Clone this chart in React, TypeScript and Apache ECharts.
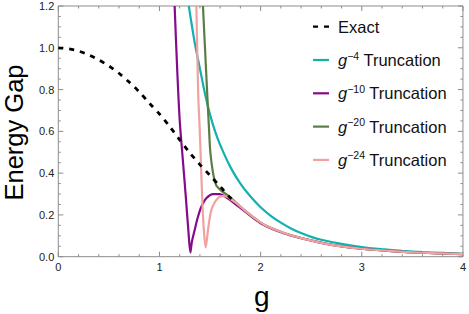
import React, { useEffect, useRef } from "react";
import * as echarts from "echarts";

// ---- data ----
const xTitle = "g";
const yTitle = "Energy Gap";
const xMajorTicks = [0, 1, 2, 3, 4];
const yMajorTicks = [0, 0.2, 0.4, 0.6, 0.8, 1.0, 1.2];
const xMinorPerMajor = 5;
const yMinorPerMajor = 4;

const exactData: [number, number][] = [
  [0, 1.0], [0.1, 0.995], [0.2, 0.984], [0.3, 0.966], [0.4, 0.942], [0.5, 0.913],
  [0.6, 0.878], [0.7, 0.836], [0.8, 0.789], [0.9, 0.735], [1.0, 0.683], [1.1, 0.624],
  [1.2, 0.559], [1.3, 0.497], [1.4, 0.441], [1.5, 0.389], [1.6, 0.336], [1.7, 0.282],
  [1.75, 0.262],
];

const g4Data: [number, number][] = [
  [1.29, 1.2], [1.35, 1.02], [1.4, 0.9], [1.45, 0.78], [1.5, 0.68], [1.55, 0.6],
  [1.6, 0.535], [1.7, 0.43], [1.8, 0.35], [1.9, 0.288], [2.0, 0.237], [2.1, 0.196],
  [2.2, 0.163], [2.3, 0.135], [2.4, 0.113], [2.5, 0.095], [2.6, 0.081], [2.8, 0.061],
  [3.0, 0.046], [3.2, 0.036], [3.4, 0.028], [3.6, 0.022], [3.8, 0.018], [4.0, 0.014],
];

const g10Data: [number, number][] = [
  [1.15, 1.2], [1.175, 0.9], [1.2, 0.654], [1.23, 0.47], [1.26, 0.29], [1.285, 0.13],
  [1.306, 0.02], [1.32, 0.07], [1.348, 0.128], [1.38, 0.19], [1.414, 0.239],
  [1.463, 0.28], [1.53, 0.3], [1.594, 0.3], [1.66, 0.284], [1.75, 0.252], [1.85, 0.214],
  [2.0, 0.16], [2.2, 0.117], [2.43, 0.085], [2.7, 0.057], [3.0, 0.038], [3.3, 0.027],
  [3.6, 0.019], [4.0, 0.012],
];

const g20Data: [number, number][] = [
  [1.43, 1.2], [1.45, 1.0], [1.47, 0.8], [1.49, 0.61], [1.503, 0.5], [1.53, 0.4],
  [1.56, 0.343], [1.61, 0.316], [1.68, 0.292], [1.75, 0.262], [1.84, 0.223],
  [1.94, 0.185], [2.04, 0.152], [2.24, 0.112], [2.43, 0.086], [2.7, 0.058],
  [3.0, 0.038], [3.3, 0.027], [3.6, 0.019], [4.0, 0.012],
];

const g24Data: [number, number][] = [
  [1.365, 1.2], [1.375, 0.95], [1.385, 0.75], [1.397, 0.62], [1.41, 0.45],
  [1.425, 0.25], [1.44, 0.12], [1.456, 0.045], [1.468, 0.08], [1.48, 0.128],
  [1.495, 0.18], [1.512, 0.223], [1.535, 0.25], [1.56, 0.27], [1.59, 0.285],
  [1.627, 0.29], [1.66, 0.288], [1.693, 0.28], [1.75, 0.26], [1.84, 0.223],
  [1.94, 0.185], [2.04, 0.152], [2.24, 0.112], [2.43, 0.085], [2.7, 0.057],
  [3.0, 0.038], [3.3, 0.027], [3.6, 0.019], [4.0, 0.012],
];

const seriesNames = ["Exact", "g4", "g10", "g20", "g24"];
const exponents: Record<string, string> = { g4: "4", g10: "10", g20: "20", g24: "24" };
const colors = ["#000000", "#12b0b0", "#850a8c", "#5b7d42", "#f2a0a0"];

const FONT = "'Liberation Sans', Arial, sans-serif";
const SOLID_ICON = "path://M0,0H16V2.2H0Z";
const DASH_ICON = "path://M0,0H5V2.2H0Z M11,0H16V2.2H11Z";
const FRAME = "#8c8c8c";
const X_MIN = 0, X_MAX = 4, Y_MIN = 0, Y_MAX = 1.2;
const W = 469, H = 314;
const GRID = { left: 58.3, right: 5, top: 6, bottom: 57.3 };
const MAJOR_PX = 5, MINOR_PX = 2.5;

type Pt = [number | string, number | string];
const GAP: Pt = ["-", "-"];

function withMinors(majors: number[], per: number): [number, boolean][] {
  const out: [number, boolean][] = [];
  majors.forEach((v, i) => {
    out.push([v, true]);
    const next = majors[i + 1];
    if (next !== undefined) for (let k = 1; k < per; k++) out.push([v + ((next - v) * k) / per, false]);
  });
  return out;
}

// tick marks expressed in axis units (pixel length converted with the plot size)
function buildTicks(): Pt[] {
  const unitX = (X_MAX - X_MIN) / (W - GRID.left - GRID.right);
  const unitY = (Y_MAX - Y_MIN) / (H - GRID.top - GRID.bottom);
  const pts: Pt[] = [];
  withMinors(xMajorTicks, xMinorPerMajor).forEach(([v, major]) => {
    const d = (major ? MAJOR_PX : MINOR_PX) * unitY;
    pts.push([v, Y_MIN], [v, Y_MIN + d], GAP, [v, Y_MAX], [v, Y_MAX - d], GAP);
  });
  withMinors(yMajorTicks, yMinorPerMajor).forEach(([v, major]) => {
    const d = (major ? MAJOR_PX : MINOR_PX) * unitX;
    pts.push([X_MIN, v], [X_MIN + d, v], GAP, [X_MAX, v], [X_MAX - d, v], GAP);
  });
  return pts;
}

const framePts: Pt[] = [[X_MIN, Y_MIN], [X_MAX, Y_MIN], [X_MAX, Y_MAX], [X_MIN, Y_MAX], [X_MIN, Y_MIN]];

export default function App() {
  const ref = useRef<HTMLDivElement>(null);

  useEffect(() => {
    if (!ref.current) return;
    const chart = echarts.init(ref.current, undefined, { renderer: "svg" });
    const datas = [exactData, g4Data, g10Data, g20Data, g24Data];

    const decoSeries = (name: string, data: Pt[]) => ({
      name,
      type: "line",
      data,
      showSymbol: false,
      symbol: "none",
      silent: true,
      clip: false,
      connectNulls: false,
      z: 1,
      emphasis: { disabled: true },
      itemStyle: { color: FRAME },
      lineStyle: { color: FRAME, width: 1, type: "solid" },
    });

    chart.setOption({
      animation: false,
      grid: { ...GRID },
      xAxis: {
        type: "value", min: X_MIN, max: X_MAX, interval: 1,
        axisLine: { show: false }, axisTick: { show: false }, splitLine: { show: false },
        axisLabel: { show: true, color: "#222", fontSize: 11, fontFamily: FONT, margin: 5 },
      },
      yAxis: {
        type: "value", min: Y_MIN, max: Y_MAX, interval: 0.2,
        axisLine: { show: false }, axisTick: { show: false }, splitLine: { show: false },
        axisLabel: { show: true, color: "#222", fontSize: 11, fontFamily: FONT, margin: 4, formatter: (v: number) => v.toFixed(1) },
      },
      graphic: [
        {
          type: "text",
          x: 14,
          y: 132.5,
          rotation: Math.PI / 2,
          style: { text: yTitle, fontSize: 25.5, fontFamily: FONT, fill: "#000", textAlign: "center", textVerticalAlign: "middle" },
        },
        {
          type: "text",
          x: 261.7,
          y: 296,
          style: { text: xTitle, fontSize: 28, fontFamily: FONT, fill: "#000", textAlign: "center", textVerticalAlign: "middle" },
        },
      ],
      legend: {
        orient: "vertical",
        left: 313,
        top: 16.7,
        padding: 0,
        itemWidth: 16,
        itemHeight: 2.2,
        itemGap: 13.3,
        data: seriesNames.map((n) => ({ name: n, icon: n === "Exact" ? DASH_ICON : SOLID_ICON })),
        textStyle: {
          fontSize: 16.5,
          color: "#111",
          fontFamily: FONT,
          lineHeight: 20,
          padding: [0, 0, 0, 4],
          rich: {
            it: { fontStyle: "italic", fontSize: 16.5, lineHeight: 20, fontFamily: FONT, color: "#111" },
            sup: { fontSize: 10.5, lineHeight: 11, verticalAlign: "top", fontFamily: FONT, color: "#111" },
            t: { fontSize: 16.5, lineHeight: 20, fontFamily: FONT, color: "#111" },
          },
        },
        formatter: (name: string) =>
          name === "Exact" ? "{t|Exact}" : `{it|g}{sup|\u2212${exponents[name]}}{t| Truncation}`,
      },
      series: [
        decoSeries("frame", framePts),
        decoSeries("ticks", buildTicks()),
        ...seriesNames.map((name, i) => ({
          name,
          type: "line",
          data: datas[i],
          showSymbol: false,
          symbol: "none",
          smooth: 0.3,
          z: name === "Exact" ? 10 : 2 + i,
          itemStyle: { color: colors[i] },
          lineStyle: {
            color: colors[i],
            width: name === "Exact" ? 2.8 : 2.2,
            type: name === "Exact" ? [5, 6] : "solid",
          },
        })),
      ],
    });
    return () => chart.dispose();
  }, []);

  return <div ref={ref} style={{ width: W, height: H, position: "absolute", left: 0, top: 0 }} />;
}
